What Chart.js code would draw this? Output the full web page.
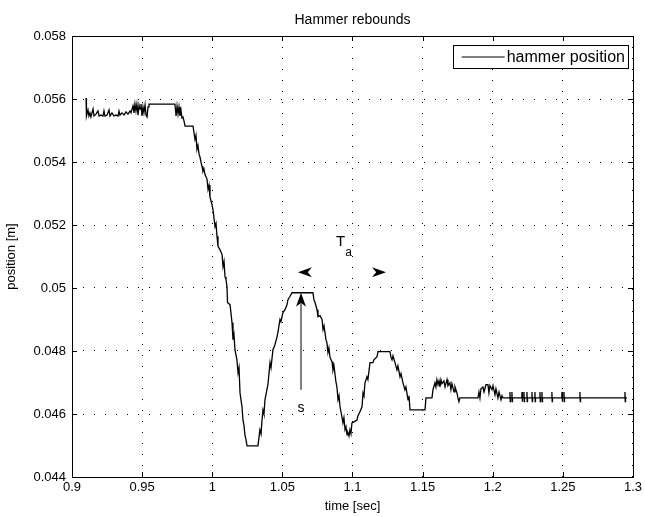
<!DOCTYPE html>
<html>
  <head>
    <title>Hammer rebounds</title>
    <script src="https://cdn.jsdelivr.net/npm/chart.js@4.4.1/dist/chart.umd.min.js"></script>
    <style>
      html, body { margin: 0; padding: 0; background: #fff; }
      .wrap { width: 645px; height: 517px; }
    </style>
  </head>
  <body>
    <div class="wrap">
      <canvas id="canvas"></canvas>
    </div>
    <script>
      // hammer position, [sec] and [m]
      var timeSec = [
        0.9100, 0.9103, 0.9114, 0.9121, 0.9128, 0.9135, 0.9150, 0.9157, 0.9171, 0.9185,
        0.9193, 0.9207, 0.9221, 0.9228, 0.9235, 0.9250, 0.9264, 0.9271, 0.9285, 0.9299,
        0.9314, 0.9328, 0.9335, 0.9342, 0.9356, 0.9371, 0.9385, 0.9399, 0.9414, 0.9421,
        0.9435, 0.9442, 0.9449, 0.9456, 0.9463, 0.9471, 0.9478, 0.9485, 0.9492, 0.9499,
        0.9506, 0.9513, 0.9521, 0.9528, 0.9535, 0.9542, 0.9549, 0.9734, 0.9742, 0.9749,
        0.9756, 0.9763, 0.9770, 0.9777, 0.9784, 0.9791, 0.9799, 0.9806, 0.9863,
        0.9877, 0.9884, 0.9891, 0.9898, 0.9906, 0.9913, 0.9920, 0.9927, 0.9934, 0.9941,
        0.9948, 0.9963, 0.9970, 0.9977, 0.9984, 0.9998, 1.0005, 1.0012, 1.0020, 1.0027,
        1.0034, 1.0041, 1.0055, 1.0070, 1.0077, 1.0084, 1.0091, 1.0098, 1.0105, 1.0109,
        1.0127, 1.0141, 1.0148, 1.0155, 1.0162, 1.0176, 1.0184, 1.0191, 1.0198, 1.0212,
        1.0219, 1.0226, 1.0233, 1.0241, 1.0248, 1.0326, 1.0333, 1.0340, 1.0348, 1.0355,
        1.0362, 1.0369, 1.0376, 1.0390, 1.0397, 1.0412, 1.0419, 1.0433, 1.0447, 1.0462,
        1.0469, 1.0483, 1.0490, 1.0504, 1.0519, 1.0533, 1.0540, 1.0554, 1.0569, 1.0718,
        1.0725, 1.0733, 1.0747, 1.0754, 1.0768, 1.0783, 1.0790, 1.0797, 1.0811, 1.0818,
        1.0825, 1.0832, 1.0840, 1.0854, 1.0861, 1.0868, 1.0882, 1.0889, 1.0897, 1.0904,
        1.0911, 1.0925, 1.0932, 1.0939, 1.0947, 1.0954, 1.0961, 1.0968, 1.0975, 1.0982,
        1.0989, 1.0996, 1.1011, 1.1032, 1.1039, 1.1053, 1.1068, 1.1075, 1.1082, 1.1089,
        1.1103, 1.1110, 1.1125, 1.1146, 1.1153, 1.1175, 1.1182, 1.1267, 1.1274, 1.1282,
        1.1289, 1.1303, 1.1317, 1.1324, 1.1339, 1.1346, 1.1360, 1.1374, 1.1381, 1.1396,
        1.1403, 1.1410, 1.1517, 1.1524, 1.1567, 1.1574, 1.1588, 1.1595, 1.1602, 1.1610,
        1.1617, 1.1624, 1.1631, 1.1638, 1.1652, 1.1660, 1.1674, 1.1681, 1.1695, 1.1702,
        1.1709, 1.1724, 1.1731, 1.1745, 1.1752, 1.1759, 1.1766, 1.1895, 1.1902, 1.1909,
        1.1916, 1.1930, 1.1938, 1.1952, 1.1966, 1.1973, 1.1980, 1.1995, 1.2002, 1.2016,
        1.2023, 1.2037, 1.2045, 1.2059, 1.2066, 1.2073,
        1.2121, 1.2123, 1.2125, 1.2127, 1.2135, 1.2137, 1.2139, 1.2141,
        1.2207, 1.2209, 1.2211, 1.2213, 1.2221, 1.2223, 1.2225, 1.2227,
        1.2242, 1.2244, 1.2246, 1.2248, 1.2278, 1.2280, 1.2282, 1.2284,
        1.2299, 1.2301, 1.2303, 1.2305, 1.2335, 1.2337, 1.2339, 1.2341,
        1.2349, 1.2351, 1.2353, 1.2355, 1.2420, 1.2422, 1.2424, 1.2426,
        1.2492, 1.2494, 1.2496, 1.2498, 1.2506, 1.2508, 1.2510, 1.2512,
        1.2620, 1.2622, 1.2624, 1.2626, 1.2941, 1.2943, 1.2945, 1.2947,
        1.2957
      ];
      var positionM = [
        0.05603, 0.05546, 0.05565, 0.05546, 0.05556, 0.05543, 0.05568, 0.05546, 0.05552, 0.05562,
        0.05546, 0.05549, 0.05546, 0.05562, 0.05546, 0.05549, 0.05565, 0.05546, 0.05556, 0.05546,
        0.05549, 0.05546, 0.05562, 0.05549, 0.05556, 0.05549, 0.05559, 0.05552, 0.05562, 0.05556,
        0.05578, 0.05556, 0.05584, 0.05562, 0.05584, 0.05549, 0.05581, 0.05568, 0.05584, 0.05546,
        0.05575, 0.05556, 0.05581, 0.05549, 0.05543, 0.05575, 0.05584, 0.05584, 0.05546, 0.05578,
        0.05552, 0.05575, 0.05546, 0.05565, 0.05540, 0.05543, 0.05530, 0.05514, 0.05514,
        0.05472, 0.05485, 0.05440, 0.05453, 0.05425, 0.05415, 0.05399, 0.05386, 0.05370, 0.05377,
        0.05361, 0.05345, 0.05313, 0.05326, 0.05288, 0.05265, 0.05250, 0.05224, 0.05195, 0.05205,
        0.05164, 0.05132, 0.05122, 0.05106, 0.05068, 0.05084, 0.05036, 0.05027, 0.05005, 0.04954,
        0.04947, 0.04890, 0.04836, 0.04852, 0.04804, 0.04772, 0.04731, 0.04747, 0.04667, 0.04623,
        0.04581, 0.04565, 0.04534, 0.04518, 0.04499, 0.04499, 0.04524, 0.04550, 0.04537, 0.04581,
        0.04613, 0.04600, 0.04645, 0.04677, 0.04693, 0.04763, 0.04747, 0.04804, 0.04820, 0.04845,
        0.04861, 0.04900, 0.04893, 0.04922, 0.04931, 0.04947, 0.04963, 0.04973, 0.04985, 0.04985,
        0.04963, 0.04954, 0.04931, 0.04909, 0.04912, 0.04900, 0.04868, 0.04880, 0.04836, 0.04826,
        0.04795, 0.04810, 0.04779, 0.04766, 0.04740, 0.04753, 0.04702, 0.04686, 0.04645, 0.04658,
        0.04623, 0.04591, 0.04572, 0.04588, 0.04550, 0.04559, 0.04534, 0.04540, 0.04530, 0.04550,
        0.04537, 0.04572, 0.04575, 0.04581, 0.04594, 0.04607, 0.04623, 0.04667, 0.04658, 0.04699,
        0.04718, 0.04709, 0.04763, 0.04763, 0.04772, 0.04782, 0.04798, 0.04798, 0.04782, 0.04772,
        0.04785, 0.04763, 0.04740, 0.04753, 0.04718, 0.04728, 0.04699, 0.04677, 0.04686, 0.04645,
        0.04658, 0.04613, 0.04613, 0.04651, 0.04651, 0.04677, 0.04699, 0.04686, 0.04709, 0.04693,
        0.04705, 0.04686, 0.04709, 0.04696, 0.04705, 0.04686, 0.04709, 0.04690, 0.04699, 0.04677,
        0.04696, 0.04670, 0.04686, 0.04667, 0.04651, 0.04639, 0.04651, 0.04651, 0.04670, 0.04651,
        0.04680, 0.04686, 0.04670, 0.04693, 0.04693, 0.04667, 0.04690, 0.04677, 0.04690, 0.04661,
        0.04680, 0.04651, 0.04670, 0.04645, 0.04658, 0.04651,
        0.04651, 0.04670, 0.04639, 0.04651, 0.04651, 0.04670, 0.04639, 0.04651,
        0.04651, 0.04670, 0.04639, 0.04651, 0.04651, 0.04670, 0.04639, 0.04651,
        0.04651, 0.04670, 0.04639, 0.04651, 0.04651, 0.04670, 0.04639, 0.04651,
        0.04651, 0.04670, 0.04639, 0.04651, 0.04651, 0.04670, 0.04639, 0.04651,
        0.04651, 0.04670, 0.04639, 0.04651, 0.04651, 0.04670, 0.04639, 0.04651,
        0.04651, 0.04670, 0.04639, 0.04651, 0.04651, 0.04670, 0.04639, 0.04651,
        0.04651, 0.04670, 0.04639, 0.04651, 0.04651, 0.04670, 0.04639, 0.04651,
        0.04651
      ];

      // axis ranges and ticks
      var xTicks = [0.9, 0.95, 1, 1.05, 1.1, 1.15, 1.2, 1.25, 1.3];
      var yTicks = [0.044, 0.046, 0.048, 0.05, 0.052, 0.054, 0.056, 0.058];

      // annotations: stroke "s" (arrow up to the peak) and the period T_a
      var strokeArrow = { t: 1.0633, from: 0.04677, to: 0.04985, label: 's', labelY: 0.0464 };
      var periodHeads = [
        { tip: 1.0611, base: 1.0711, y: 0.0505 },
        { tip: 1.1239, base: 1.1139, y: 0.0505 }
      ];
      var periodLabel = { t: 1.0916, y: 0.05145, text: 'T', sub: 'a' };

      var seriesName = 'hammer position';
      var titleText = 'Hammer rebounds';

      var FONT = '"Liberation Sans", Arial, Helvetica, sans-serif';

      var points = timeSec.map(function(t, i) { return { x: t, y: positionM[i] }; });

      var matlabFrame = {
        id: 'matlabFrame',
        afterDraw: function(chart) {
          var ctx = chart.ctx;
          var a = chart.chartArea;
          var xs = chart.scales.x, ys = chart.scales.y;
          ctx.save();

          // box and inward ticks on all four sides
          ctx.strokeStyle = '#000';
          ctx.lineWidth = 1;
          ctx.strokeRect(Math.round(a.left) + 0.5, Math.round(a.top) + 0.5,
            Math.round(a.right - a.left), Math.round(a.bottom - a.top));
          ctx.beginPath();
          xTicks.forEach(function(v) {
            var px = Math.round(xs.getPixelForValue(v)) + 0.5;
            ctx.moveTo(px, a.bottom); ctx.lineTo(px, a.bottom - 5);
            ctx.moveTo(px, a.top); ctx.lineTo(px, a.top + 5);
          });
          yTicks.forEach(function(v) {
            var py = Math.round(ys.getPixelForValue(v)) + 0.5;
            ctx.moveTo(a.left, py); ctx.lineTo(a.left + 5, py);
            ctx.moveTo(a.right, py); ctx.lineTo(a.right - 5, py);
          });
          ctx.stroke();

          // title
          ctx.fillStyle = '#000';
          ctx.font = '14px ' + FONT;
          ctx.textAlign = 'center';
          ctx.textBaseline = 'middle';
          ctx.fillText(titleText, (a.left + a.right) / 2, 20);

          // stroke arrow
          var ax = xs.getPixelForValue(strokeArrow.t);
          var ay0 = ys.getPixelForValue(strokeArrow.from);
          var ay1 = ys.getPixelForValue(strokeArrow.to);
          ctx.beginPath();
          ctx.moveTo(ax, ay0); ctx.lineTo(ax, ay1 + 4);
          ctx.stroke();
          ctx.beginPath();
          ctx.moveTo(ax, ay1);
          ctx.lineTo(ax - 5, ay1 + 14);
          ctx.lineTo(ax, ay1 + 10);
          ctx.lineTo(ax + 5, ay1 + 14);
          ctx.closePath();
          ctx.fill();
          ctx.font = '14px ' + FONT;
          ctx.textBaseline = 'top';
          ctx.fillText(strokeArrow.label, ax, ys.getPixelForValue(strokeArrow.labelY));

          // period arrow heads
          periodHeads.forEach(function(h) {
            var tx = xs.getPixelForValue(h.tip);
            var bx = xs.getPixelForValue(h.base);
            var hy = ys.getPixelForValue(h.y);
            var notch = tx + (bx - tx) * 0.7;
            ctx.beginPath();
            ctx.moveTo(tx, hy);
            ctx.lineTo(bx, hy - 5);
            ctx.lineTo(notch, hy);
            ctx.lineTo(bx, hy + 5);
            ctx.closePath();
            ctx.fill();
          });

          // T_a
          var lx = xs.getPixelForValue(periodLabel.t);
          var ly = ys.getPixelForValue(periodLabel.y);
          ctx.textBaseline = 'middle';
          ctx.font = '15px ' + FONT;
          ctx.fillText(periodLabel.text, lx, ly);
          ctx.font = '12px ' + FONT;
          ctx.fillText(periodLabel.sub, lx + 8, ly + 10);

          // legend box
          var lgR = a.right - 5, lgT = a.top + 9, lgH = 23;
          ctx.font = '16px ' + FONT;
          var tw = ctx.measureText(seriesName).width;
          var lgL = lgR - tw - 57;
          ctx.fillStyle = '#fff';
          ctx.fillRect(lgL, lgT, lgR - lgL, lgH);
          ctx.strokeRect(Math.round(lgL) + 0.5, Math.round(lgT) + 0.5, Math.round(lgR - lgL), lgH);
          ctx.beginPath();
          ctx.moveTo(lgL + 9, lgT + lgH / 2 + 0.5);
          ctx.lineTo(lgL + 52, lgT + lgH / 2 + 0.5);
          ctx.stroke();
          ctx.fillStyle = '#000';
          ctx.textAlign = 'left';
          ctx.textBaseline = 'middle';
          ctx.fillText(seriesName, lgL + 54, lgT + lgH / 2 + 1);

          ctx.restore();
        }
      };

      var config = {
        type: 'line',
        data: {
          datasets: [{
            label: seriesName,
            data: points,
            borderColor: '#000',
            borderWidth: 1.3,
            pointRadius: 0,
            tension: 0,
            fill: false
          }]
        },
        options: {
          responsive: true,
          maintainAspectRatio: false,
          animation: false,
          layout: { padding: { top: 36, right: 9, left: 0, bottom: 0 } },
          plugins: {
            legend: { display: false },
            tooltip: { enabled: false },
            title: { display: false }
          },
          scales: {
            x: {
              type: 'linear',
              min: 0.9,
              max: 1.3,
              afterBuildTicks: function(scale) {
                scale.ticks = xTicks.map(function(v) { return { value: v }; });
              },
              afterFit: function(scale) { scale.height = 40; },
              ticks: {
                color: '#000',
                font: { family: FONT, size: 13 },
                padding: 3,
                maxRotation: 0,
                callback: function(v) { return String(v); }
              },
              grid: { color: '#000', lineWidth: 1, drawTicks: false },
              border: { display: false, dash: [1, 10] },
              title: {
                display: true,
                text: 'time [sec]',
                color: '#000',
                font: { family: FONT, size: 13 },
                padding: { top: 0, bottom: 3 }
              }
            },
            y: {
              type: 'linear',
              min: 0.044,
              max: 0.058,
              afterBuildTicks: function(scale) {
                scale.ticks = yTicks.map(function(v) { return { value: v }; });
              },
              afterFit: function(scale) { scale.width = 72; },
              ticks: {
                color: '#000',
                font: { family: FONT, size: 13 },
                padding: 6,
                callback: function(v) { return String(v); }
              },
              grid: { color: '#000', lineWidth: 1, drawTicks: false },
              border: { display: false, dash: [1, 10] },
              title: {
                display: true,
                text: 'position [m]',
                color: '#000',
                font: { family: FONT, size: 13 },
                padding: { top: 4, bottom: 0 }
              }
            }
          }
        },
        plugins: [matlabFrame]
      };

      var ctx = document.getElementById('canvas').getContext('2d');
      window.hammerChart = new Chart(ctx, config);
    </script>
  </body>
</html>
